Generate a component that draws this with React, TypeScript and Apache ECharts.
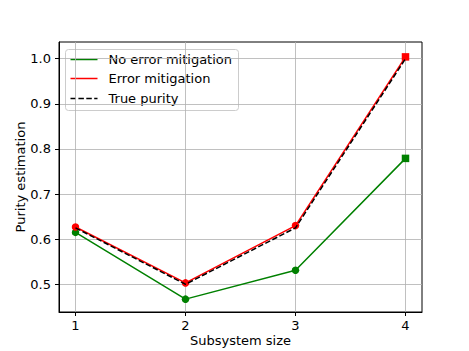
import React, { useEffect, useRef } from "react";
import * as echarts from "echarts";

const subsystemSizes = [1, 2, 3, 4];
const noMitigation = [0.615, 0.467, 0.531, 0.779];
const withMitigation = [0.627, 0.503, 0.630, 1.004];
const truePurity = [0.625, 0.5, 0.625, 1.0];
const xTicks = [1, 2, 3, 4];
const yTicks = [0.5, 0.6, 0.7, 0.8, 0.9, 1.0];

const FONT = "DejaVu Sans";

function pts(vals: number[]) {
  return subsystemSizes.map((x, i) => [x, vals[i]]);
}

function markerData(vals: number[]) {
  return subsystemSizes.map((x, i) =>
    i === subsystemSizes.length - 1
      ? { value: [x, vals[i]], symbol: "rect" }
      : { value: [x, vals[i]] }
  );
}

export default function App() {
  const ref = useRef<HTMLDivElement>(null);
  useEffect(() => {
    if (!ref.current) return;
    const chart = echarts.init(ref.current, undefined, { renderer: "svg" });
    const gridLine = { show: true, lineStyle: { color: "#b0b0b0", width: 0.8 } };
    chart.setOption({
      animation: false,
      backgroundColor: "#fff",
      grid: {
        left: 59,
        right: 47,
        top: 42,
        bottom: 39,
        outerBoundsMode: "none",
        containLabel: false,
        show: true,
        borderColor: "#000",
        borderWidth: 1,
        backgroundColor: "transparent",
      },
      xAxis: {
        type: "value",
        min: 0.85,
        max: 4.15,
        name: "Subsystem size",
        nameLocation: "middle",
        nameGap: 22,
        nameMoveOverlap: false,
        nameTextStyle: { fontFamily: FONT, fontSize: 13, color: "#000" },
        axisLine: { show: true, lineStyle: { color: "#000", width: 1 } },
        axisTick: { show: true, length: 4, customValues: xTicks, lineStyle: { color: "#000" } },
        axisLabel: {
          customValues: xTicks,
          fontFamily: FONT,
          fontSize: 13,
          color: "#000",
          margin: 7,
        },
        splitLine: gridLine,
      },
      yAxis: {
        type: "value",
        min: 0.4385,
        max: 1.037,
        name: "Purity estimation",
        nameLocation: "middle",
        nameGap: 32,
        nameMoveOverlap: false,
        nameTextStyle: { fontFamily: FONT, fontSize: 13, color: "#000" },
        axisLine: { show: true, lineStyle: { color: "#000", width: 1 } },
        axisTick: { show: true, length: 4, customValues: yTicks, lineStyle: { color: "#000" } },
        axisLabel: {
          customValues: yTicks,
          fontFamily: FONT,
          fontSize: 13,
          color: "#000",
          margin: 8,
          formatter: (v: number) => v.toFixed(1),
        },
        splitLine: gridLine,
      },
      series: [
        {
          name: "No error mitigation",
          type: "line",
          data: markerData(noMitigation),
          symbol: "circle",
          symbolSize: 7.5,
          itemStyle: { color: "#008000" },
          lineStyle: { color: "#008000", width: 1.5 },
          z: 2,
        },
        {
          name: "Error mitigation",
          type: "line",
          data: markerData(withMitigation),
          symbol: "circle",
          symbolSize: 7.5,
          itemStyle: { color: "#ff0000" },
          lineStyle: { color: "#ff0000", width: 1.5 },
          z: 3,
        },
        {
          name: "True purity",
          type: "line",
          data: pts(truePurity),
          showSymbol: false,
          symbol: "none",
          lineStyle: { color: "#000", width: 1.5, type: [5.5, 2.4] },
          z: 4,
        },
      ],
      graphic: [
        {
          type: "group",
          left: 65,
          top: 49,
          children: [
            {
              type: "rect",
              shape: { x: 0, y: 0, width: 173, height: 61, r: 3 },
              style: { fill: "rgba(255,255,255,0.8)", stroke: "#cccccc", lineWidth: 1 },
            },
            {
              type: "line",
              shape: { x1: 5, y1: 10, x2: 32, y2: 10 },
              style: { stroke: "#008000", lineWidth: 1.5 },
            },
            {
              type: "text",
              x: 43,
              y: 10,
              style: { text: "No error mitigation", font: `13px ${FONT}`, fill: "#000", verticalAlign: "middle" },
            },
            {
              type: "line",
              shape: { x1: 5, y1: 29, x2: 32, y2: 29 },
              style: { stroke: "#ff0000", lineWidth: 1.5 },
            },
            {
              type: "text",
              x: 43,
              y: 29,
              style: { text: "Error mitigation", font: `13px ${FONT}`, fill: "#000", verticalAlign: "middle" },
            },
            {
              type: "line",
              shape: { x1: 5, y1: 49, x2: 32, y2: 49 },
              style: { stroke: "#000", lineWidth: 1.5, lineDash: [5.5, 2.4] },
            },
            {
              type: "text",
              x: 43,
              y: 49,
              style: { text: "True purity", font: `13px ${FONT}`, fill: "#000", verticalAlign: "middle" },
            },
          ],
        },
      ],
    });
    return () => chart.dispose();
  }, []);
  return <div ref={ref} style={{ width: 469, height: 351, position: "absolute", left: 0, top: 0 }} />;
}
